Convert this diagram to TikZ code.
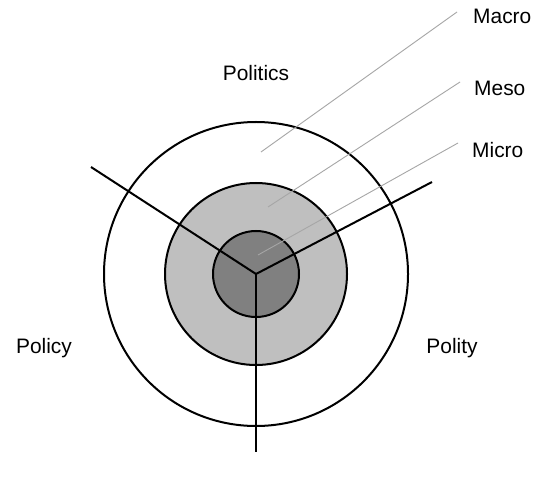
\documentclass[tikz,border=0pt]{standalone}
\usepackage{fontspec}
\setmainfont{Liberation Sans}
\begin{document}
\begin{tikzpicture}[x=1bp,y=-1bp,
  ring/.style={circle,draw=black,line width=2bp,inner sep=0pt},
  spoke/.style={draw=black,line width=2bp},
  leader/.style={draw=black!35,line width=0.9bp},
  lbl/.style={font=\fontsize{21}{24}\selectfont,inner sep=0pt}]
\useasboundingbox[fill=white] (0,0) rectangle (535,481);
\coordinate (c) at (256,274);
\node[ring,minimum size=304bp] (outer) at (c) {};
\node[ring,fill=black!25,minimum size=182bp] (mid) at (c) {};
\node[ring,fill=black!50,minimum size=86bp] (inner) at (c) {};
\coordinate (e1) at (91,167);
\coordinate (e2) at (432,182);
\coordinate (e3) at (256,452);
\draw[spoke,line join=miter] (e1) -- (c) -- (e2);
\draw[spoke] (c) -- (e3);
\node[lbl,anchor=west] (macro) at (473,16) {Macro};
\node[lbl,anchor=west] (meso) at (474,88) {Meso};
\node[lbl,anchor=west] (micro) at (472,150) {Micro};
\coordinate (m1) at (261,152);
\coordinate (m2) at (268,207);
\coordinate (m3) at (258,255);
\coordinate (t1) at (457,12);
\coordinate (t2) at (460,82);
\coordinate (t3) at (458,143);
\draw[leader] (m1) -- (t1);
\draw[leader] (m2) -- (t2);
\draw[leader] (m3) -- (t3);
\node[lbl] (politics) at (256,73) {Politics};
\node[lbl] (policy) at (44,348) {Policy};
\node[lbl] (polity) at (452,348) {Polity};
\end{tikzpicture}
\end{document}
